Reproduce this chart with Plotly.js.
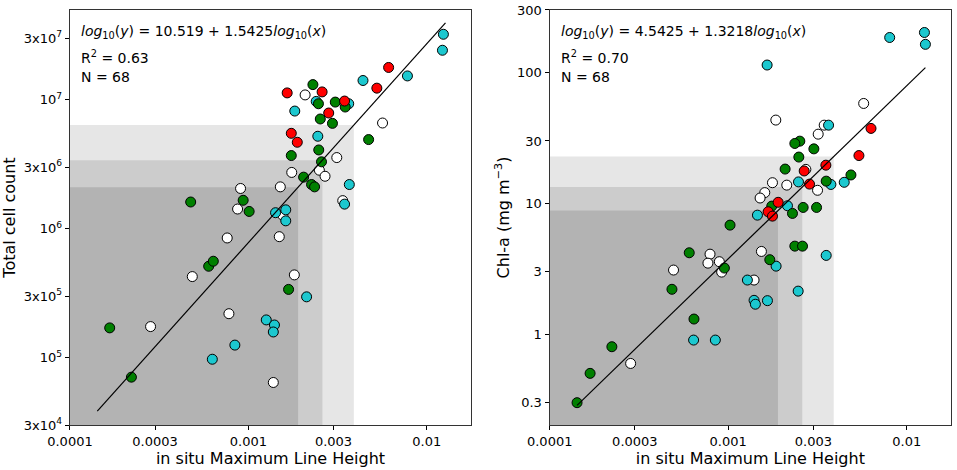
<!DOCTYPE html>
<html>
<head>
<meta charset="utf-8">
<script src="https://cdn.plot.ly/plotly-3.0.1.min.js"></script>
<style>html,body{margin:0;padding:0;background:#fff;}#chart{width:957px;height:470px;}</style>
</head>
<body>
<div id="chart"></div>
<script>
// ---------- Data: left panel (Total cell count) ----------
const leftGreenX = [0.00230,0.00247,0.00307,0.00349,0.00253,0.00296,0.00472,0.00248,0.00174,0.00257,0.00204,0.00226,0.00235,0.000475,0.000935,0.00101,0.000599,0.000636,0.00168,0.000167,0.000221];
const leftGreenY = [1.31e7,9.31e6,9.59e6,8.78e6,7.09e6,6.56e6,4.91e6,4.08e6,3.69e6,3.30e6,2.51e6,2.20e6,2.11e6,1.61e6,1.66e6,1.36e6,5.11e5,5.59e5,3.38e5,1.70e5,7.05e4];
const leftRedX = [0.00611,0.00525,0.00165,0.00259,0.00346,0.00282,0.00174,0.00188];
const leftRedY = [1.78e7,1.23e7,1.13e7,1.15e7,9.77e6,7.89e6,5.49e6,4.68e6];
const leftCyanX = [0.01239,0.01224,0.00779,0.00439,0.00240,0.00365,0.00182,0.00245,0.00368,0.00346,0.00142,0.00162,0.00162,0.00212,0.00126,0.00140,0.00138,0.00084,0.000628];
const leftCyanY = [3.22e7,2.42e7,1.53e7,1.41e7,9.71e6,9.31e6,8.17e6,5.21e6,2.20e6,1.55e6,1.33e6,1.40e6,1.15e6,2.96e5,1.96e5,1.79e5,1.58e5,1.25e5,9.71e4];
const leftWhiteX = [0.00208,0.00565,0.00313,0.00175,0.00250,0.00269,0.00151,0.000904,0.00338,0.00087,0.000761,0.00149,0.000485,0.00181,0.000778,0.000283,0.00138,0.00156];
const leftWhiteY = [1.09e7,6.60e6,3.56e6,2.73e6,2.84e6,2.55e6,2.11e6,2.05e6,1.65e6,1.42e6,8.47e5,8.67e5,4.25e5,4.38e5,2.19e5,1.74e5,6.41e4,1.27e6];

// ---------- Data: right panel (Chl-a) ----------
const rightGreenX = [0.002519,0.002362,0.003019,0.002487,0.002084,0.004871,0.00354,0.001754,0.00263,0.003126,0.002291,0.001024,0.002362,0.002608,0.000605,0.00171,0.000952,0.000484,0.000643,0.000223,0.0001684,0.0001423];
const rightGreenY = [29.9,28.7,26.1,22.6,18.3,16.5,14.8,9.54,9.32,9.32,8.39,6.83,4.72,4.72,4.20,3.72,3.21,2.21,1.31,0.805,0.504,0.301];
const rightRedX = [0.00631,0.0054,0.003525,0.002665,0.002855,0.001905,0.001674,0.00177];
const rightRedY = [37.4,23.2,19.6,17.7,14.05,10.2,8.64,8.0];
const rightCyanX = [0.01257,0.01273,0.00803,0.001652,0.00365,0.002476,0.003762,0.004467,0.002148,0.001458,0.00354,0.001855,0.001281,0.002466,0.001396,0.00142,0.001659,0.00064,0.000847];
const rightCyanY = [202,164,185,114,39.6,14.6,13.96,14.5,9.60,8.14,4.01,3.32,2.60,2.14,1.82,1.70,1.81,0.905,0.905];
const rightWhiteX = [0.00574,0.001848,0.00345,0.003193,0.002723,0.00177,0.002129,0.003166,0.001603,0.001509,0.000791,0.001535,0.00077,0.000892,0.000919,0.000494,0.001396,0.000284];
const rightWhiteY = [58.0,43.3,39.6,33.8,18.2,14.4,13.8,12.6,12.1,11.0,4.10,4.30,3.50,3.59,2.99,3.10,2.60,0.60];

// ---------- Fits and thresholds ----------
const leftFit = {a: 10.519, b: 1.5425, r2: "0.63", n: 68};
const rightFit = {a: 4.5425, b: 1.3218, r2: "0.70", n: 68};
const shadeX = [0.0039, 0.0026, 0.0019];
const shadeColors = ['#e6e6e6', '#cccccc', '#b3b3b3'];

// ---------- Tick labels ----------
const xTickVals = [0.0001, 0.0003, 0.001, 0.003, 0.01];
const xTickText = ['0.0001', '0.0003', '0.001', '0.003', '0.01'];
const leftYTickVals = [3e4, 1e5, 3e5, 1e6, 3e6, 1e7, 3e7];
const leftYTickText = ['3x10<sup>4</sup>', '10<sup>5</sup>', '3x10<sup>5</sup>', '10<sup>6</sup>', '3x10<sup>6</sup>', '10<sup>7</sup>', '3x10<sup>7</sup>'];
const rightYTickVals = [0.3, 1, 3, 10, 30, 100, 300];
const rightYTickText = ['0.3', '1', '3', '10', '30', '100', '300'];

const FONT = 'DejaVu Sans, Liberation Sans, sans-serif';
const allX = [].concat(leftGreenX, leftRedX, leftCyanX, leftWhiteX, rightGreenX, rightRedX, rightCyanX, rightWhiteX);
const xMin = Math.min.apply(null, allX), xMax = Math.max.apply(null, allX);
const fitY = (f, x) => Math.pow(10, f.a + f.b * Math.log10(x));

function pts(x, y, color, xa, ya) {
  return {type: 'scatter', mode: 'markers', x: x, y: y, xaxis: xa, yaxis: ya,
    marker: {color: color, size: 10, line: {color: '#000', width: 1}}, hoverinfo: 'x+y', showlegend: false};
}
function fitLine(f, xa, ya) {
  return {type: 'scatter', mode: 'lines', x: [xMin, xMax], y: [fitY(f, xMin), fitY(f, xMax)],
    xaxis: xa, yaxis: ya, line: {color: '#000', width: 1.2}, hoverinfo: 'skip', showlegend: false};
}

const data = [
  pts(leftWhiteX, leftWhiteY, '#ffffff', 'x', 'y'),
  pts(leftCyanX, leftCyanY, '#1cc8cf', 'x', 'y'),
  pts(leftGreenX, leftGreenY, '#008000', 'x', 'y'),
  pts(leftRedX, leftRedY, '#ff0000', 'x', 'y'),
  fitLine(leftFit, 'x', 'y'),
  pts(rightWhiteX, rightWhiteY, '#ffffff', 'x2', 'y2'),
  pts(rightCyanX, rightCyanY, '#1cc8cf', 'x2', 'y2'),
  pts(rightGreenX, rightGreenY, '#008000', 'x2', 'y2'),
  pts(rightRedX, rightRedY, '#ff0000', 'x2', 'y2'),
  fitLine(rightFit, 'x2', 'y2')
];

const shapes = [];
function addShades(f, xref, yref, yLow) {
  shadeX.forEach((sx, i) => {
    shapes.push({type: 'rect', xref: xref, yref: yref, x0: 1e-5, x1: sx, y0: yLow, y1: fitY(f, sx),
      fillcolor: shadeColors[i], line: {width: 0}, layer: 'below'});
  });
}
addShades(leftFit, 'x', 'y', 1e3);
addShades(rightFit, 'x2', 'y2', 0.01);

function eqText(f) {
  return '<i>log</i><sub>10</sub>(<i>y</i>) = ' + f.a + ' + ' + f.b + '<i>log</i><sub>10</sub>(<i>x</i>)';
}
const annotations = [];
function addAnn(f, xref, yref) {
  const base = {xref: xref + ' domain', yref: yref + ' domain', xanchor: 'left', yanchor: 'middle', showarrow: false,
    font: {family: FONT, size: 14, color: '#000'}, x: 0.022};
  annotations.push(Object.assign({}, base, {text: eqText(f), y: 0.948}));
  annotations.push(Object.assign({}, base, {text: 'R<sup>2</sup> = ' + f.r2, y: 0.886}));
  annotations.push(Object.assign({}, base, {text: 'N = ' + f.n, y: 0.838}));
}
addAnn(leftFit, 'x', 'y');
addAnn(rightFit, 'x2', 'y2');

const axCommon = {type: 'log', showgrid: false, zeroline: false, showline: true, mirror: true,
  linecolor: '#333', linewidth: 1.2, ticks: 'outside', ticklen: 4, tickcolor: '#000', tickwidth: 1,
  tickfont: {family: FONT, size: 13, color: '#000'}};

const layout = {
  width: 957, height: 470, margin: {l: 0, r: 0, t: 0, b: 0},
  paper_bgcolor: '#fff', plot_bgcolor: '#fff',
  font: {family: FONT, color: '#000'},
  xaxis: Object.assign({}, axCommon, {domain: [0.0731, 0.4922], range: [-4, -1.752], anchor: 'y',
    tickvals: xTickVals, ticktext: xTickText,
    title: {text: 'in situ Maximum Line Height', font: {family: FONT, size: 16}, standoff: 3}}),
  yaxis: Object.assign({}, axCommon, {domain: [0.0957, 0.9787], range: [4.477, 7.696], anchor: 'x',
    tickvals: leftYTickVals, ticktext: leftYTickText,
    title: {text: 'Total cell count', font: {family: FONT, size: 16}, standoff: 5}}),
  xaxis2: Object.assign({}, axCommon, {domain: [0.5744, 0.9937], range: [-4, -1.752], anchor: 'y2',
    tickvals: xTickVals, ticktext: xTickText,
    title: {text: 'in situ Maximum Line Height', font: {family: FONT, size: 16}, standoff: 3}}),
  yaxis2: Object.assign({}, axCommon, {domain: [0.0957, 0.9787], range: [-0.692, 2.477], anchor: 'x2',
    tickvals: rightYTickVals, ticktext: rightYTickText,
    title: {text: 'Chl-a (mg m<sup>−3</sup>)', font: {family: FONT, size: 16}, standoff: 3}}),
  shapes: shapes,
  annotations: annotations
};

Plotly.newPlot('chart', data, layout, {displayModeBar: false, staticPlot: true});
</script>
</body>
</html>
